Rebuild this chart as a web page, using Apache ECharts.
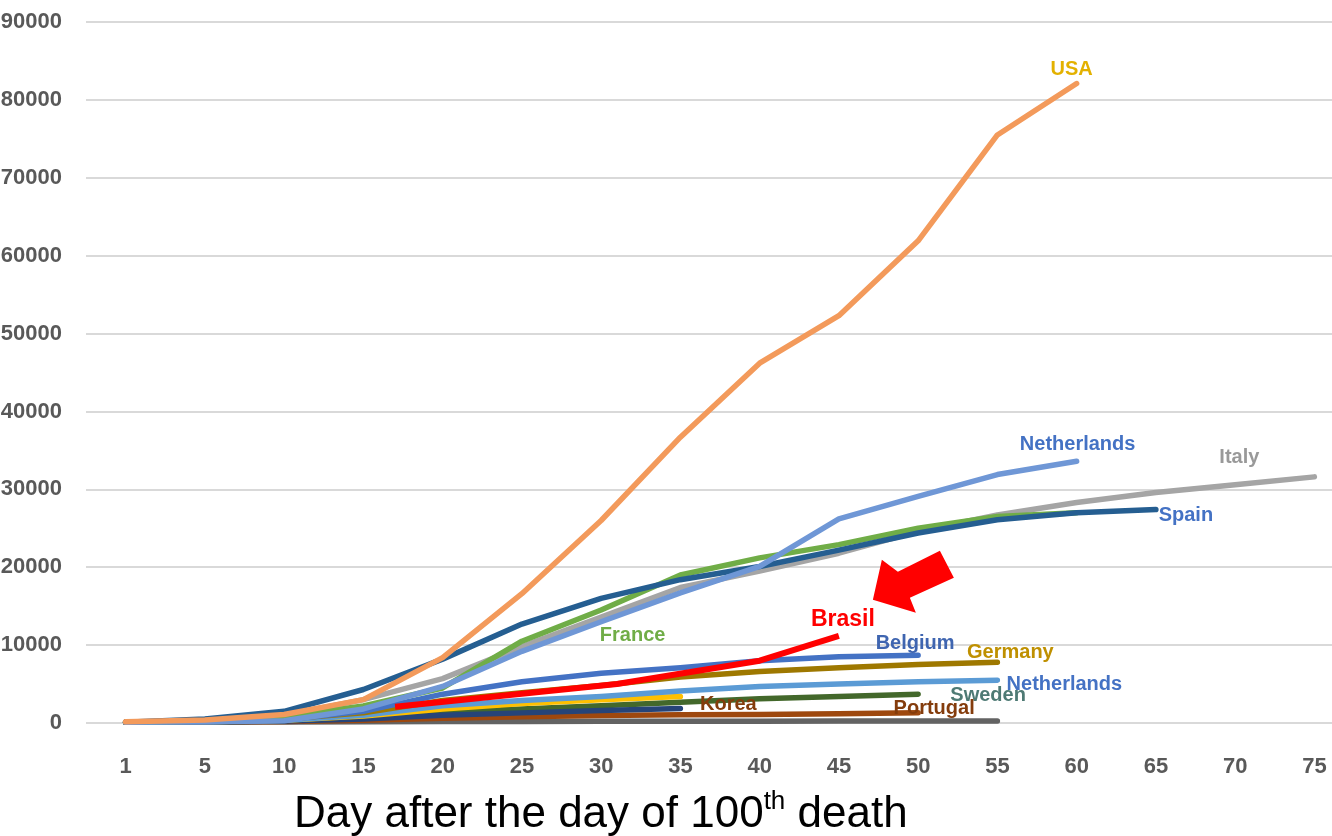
<!DOCTYPE html>
<html>
<head>
<meta charset="utf-8">
<script src="https://cdn.jsdelivr.net/npm/echarts@6/dist/echarts.min.js"></script>
<style>
  html, body { margin: 0; padding: 0; background: #fff; }
  #chart { width: 1332px; height: 836px; }
</style>
</head>
<body>
<div id="chart"></div>
<script>
// day labels on the x axis
const days = ['1', '5', '10', '15', '20', '25', '30', '35', '40', '45', '50', '55', '60', '65', '70', '75']
const yTicks = [0, 10000, 20000, 30000, 40000, 50000, 60000, 70000, 80000, 90000]

// cumulative deaths, one value per day label
const usa = [150, 400, 1100, 3000, 8400, 16600, 26000, 36700, 46200, 52300, 61900, 75500, 82100]
const netherlandsTop = [100, 150, 300, 1800, 4700, 9200, 13000, 16700, 20100, 26200, 29100, 31900, 33600]
const italy = [100, 350, 1000, 3000, 5700, 9800, 13600, 17400, 19500, 21800, 24600, 26700, 28300, 29600, 30600, 31600]
const spain = [100, 500, 1500, 4300, 8200, 12700, 16000, 18400, 20100, 22200, 24400, 26100, 27000, 27400]
const france = [100, 250, 800, 2200, 4500, 10500, 14500, 19000, 21200, 22900, 25000, 26500, 27000]
const belgium = [100, 150, 400, 1500, 3700, 5300, 6400, 7100, 8000, 8500, 8700]
const germany = [100, 200, 500, 1300, 2900, 3900, 4800, 5900, 6600, 7100, 7500, 7800]
const netherlands = [100, 150, 350, 1000, 2200, 2900, 3400, 4100, 4700, 5000, 5300, 5500]
const yellowLine = [100, 150, 350, 900, 1800, 2500, 3000, 3400]
const navyLine = [100, 120, 250, 500, 1000, 1300, 1600, 1850]
const sweden = [100, 130, 300, 900, 1400, 1800, 2200, 2650, 3100, 3400, 3700]
const portugal = [100, 130, 200, 350, 600, 800, 950, 1050, 1100, 1200, 1300]
const korea = [100, 120, 140, 160, 180, 200, 210, 220, 235, 245, 255, 265]

// Brasil was drawn over the chart at its own days
const brasilDays = [17, 31, 40, 45]
const brasilValues = [2100, 5000, 8000, 11200]

const FONT = '"Liberation Sans", Arial, sans-serif'

// day -> position on the category axis (labels are 1, 5, 10, ...)
const dayPos = d => (d < 5 ? (d - 1) / 4 : d / 5)

const lines = [
    { name: 'Korea', data: korea, color: '#636363' },
    { name: 'Portugal', data: portugal, color: '#9E480E' },
    { name: 'Sweden', data: sweden, color: '#43682B' },
    { name: 'Navy', data: navyLine, color: '#264478' },
    { name: 'Yellow', data: yellowLine, color: '#FFC000' },
    { name: 'Netherlands2', data: netherlands, color: '#5B9BD5' },
    { name: 'Germany', data: germany, color: '#9E7800' },
    { name: 'Belgium', data: belgium, color: '#4472C4' },
    { name: 'Italy', data: italy, color: '#A5A5A5' },
    { name: 'France', data: france, color: '#70AD47' },
    { name: 'Spain', data: spain, color: '#255E91' },
    { name: 'Netherlands', data: netherlandsTop, color: '#6F97D6' },
    { name: 'USA', data: usa, color: '#F39A5B' },
]

// text labels, placed relative to the last point of a line
const labels = [
    { text: 'USA', line: 'USA', off: [-5, -14], color: '#E3B100' },
    { text: 'Netherlands', line: 'Netherlands', off: [1, -17], color: '#4472C4' },
    { text: 'Italy', line: 'Italy', off: [-75, -19], color: '#999999' },
    { text: 'Spain', line: 'Spain', off: [30, 6], color: '#4472C4' },
    { text: 'France', line: 'France', off: [-444, 123], color: '#70AD47' },
    { text: 'Belgium', line: 'Belgium', off: [-3, -12], color: '#3F65B0' },
    { text: 'Germany', line: 'Germany', off: [13, -10], color: '#BF9000' },
    { text: 'Netherlands', line: 'Netherlands2', off: [67, 4], color: '#4472C4' },
    { text: 'Sweden', line: 'Sweden', off: [70, 1], color: '#4E7A74' },
    { text: 'Portugal', line: 'Portugal', off: [16, -4], color: '#843C0C' },
    { text: 'Korea', line: 'Korea', off: [-269, -16], color: '#843C0C' },
]

const series = lines.map(l => ({
    name: l.name,
    type: 'line',
    data: l.data,
    symbol: 'none',
    lineStyle: { color: l.color, width: 5.5, cap: 'round', join: 'round' },
    itemStyle: { color: l.color },
}))
series.push({
    name: 'Brasil',
    type: 'line',
    xAxisIndex: 1,
    data: brasilDays.map((d, i) => [dayPos(d), brasilValues[i]]),
    symbol: 'none',
    lineStyle: { color: '#FF0000', width: 6, join: 'round' },
    itemStyle: { color: '#FF0000' },
    z: 5,
})

const myChart = echarts.init(document.getElementById('chart'))
const option = {
    animation: false,
    backgroundColor: '#fff',
    title: {
        text: '{a|Day after the day of 100}{s|th}{a| death}',
        left: 294,
        top: 789,
        padding: 0,
        textStyle: {
            rich: {
                a: { fontFamily: FONT, fontWeight: 'normal', fontSize: 44, color: '#000', lineHeight: 52 },
                s: { fontFamily: FONT, fontWeight: 'normal', fontSize: 26, color: '#000', verticalAlign: 'top', lineHeight: 52 },
            }
        }
    },
    grid: { left: 86, top: 22, width: 1268, height: 701, containLabel: false, outerBoundsMode: 'none' },
    xAxis: [
        {
            type: 'category',
            data: days,
            boundaryGap: true,
            axisLine: { show: false },
            axisTick: { show: false },
            axisLabel: { margin: 33, color: '#595959', fontFamily: FONT, fontWeight: 'bold', fontSize: 22 },
        },
        {
            type: 'value',
            min: -0.5,
            max: days.length - 0.5,
            show: false,
        }
    ],
    yAxis: {
        type: 'value',
        min: yTicks[0],
        max: yTicks[yTicks.length - 1],
        interval: 10000,
        axisLine: { show: false },
        axisTick: { show: false },
        axisLabel: {
            margin: 24, color: '#595959', fontFamily: FONT, fontWeight: 'bold', fontSize: 22,
            formatter: v => String(v)
        },
        splitLine: { lineStyle: { color: '#D9D9D9', width: 2 } },
    },
    series: series,
}
myChart.setOption(option)

// labels and the arrow, anchored to the data
const graphics = labels.map(lb => {
    const l = lines.find(x => x.name === lb.line)
    const p = myChart.convertToPixel({ xAxisIndex: 0, yAxisIndex: 0 }, [l.data.length - 1, l.data[l.data.length - 1]])
    return {
        type: 'text',
        x: p[0] + lb.off[0],
        y: p[1] + lb.off[1],
        z: 100,
        style: {
            text: lb.text,
            fill: lb.color,
            font: 'bold 20px ' + FONT,
            textAlign: 'center',
            textVerticalAlign: 'middle',
        }
    }
})
const bEnd = myChart.convertToPixel({ xAxisIndex: 1, yAxisIndex: 0 },
    [dayPos(brasilDays[brasilDays.length - 1]), brasilValues[brasilValues.length - 1]])
graphics.push({
    type: 'text',
    x: bEnd[0] + 4,
    y: bEnd[1] - 16,
    z: 100,
    style: { text: 'Brasil', fill: '#FF0000', font: 'bold 23px ' + FONT, textAlign: 'center', textVerticalAlign: 'middle' }
})
const arrow = [[34, -36], [43, -76], [59, -64], [101, -85], [115, -58], [71, -38], [77, -23]]
graphics.push({
    type: 'polygon',
    z: 100,
    shape: { points: arrow.map(a => [bEnd[0] + a[0], bEnd[1] + a[1]]) },
    style: { fill: '#FF0000' }
})
myChart.setOption({ graphic: graphics })
</script>
</body>
</html>
